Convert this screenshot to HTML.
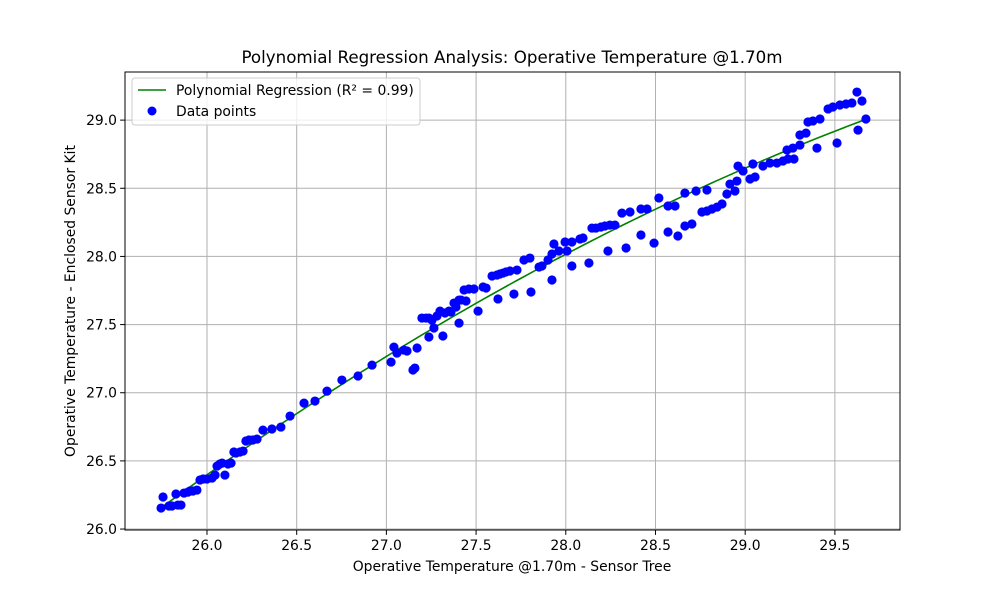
<!DOCTYPE html>
<html><head><meta charset="utf-8"><style>
body{margin:0;background:#fff;}
svg text{font-family:"DejaVu Sans","Liberation Sans",sans-serif;fill:#000;}
</style></head><body>
<svg id="chart" width="1000" height="596" viewBox="0 0 1000 596">
<rect width="1000" height="596" fill="#fff"/>
<g id="grid"></g>
<g id="xticks"></g>
<g id="yticks"></g>
<g id="fitg"></g>
<g id="pts"></g>
<rect x="125" y="72" width="775" height="458" fill="none" stroke="#000" stroke-width="1"/>
<text x="512" y="63" font-size="16.7" text-anchor="middle">Polynomial Regression Analysis: Operative Temperature @1.70m</text>
<text x="512" y="571" font-size="13.9" text-anchor="middle">Operative Temperature @1.70m - Sensor Tree</text>
<text transform="translate(75,301) rotate(-90)" font-size="13.9" text-anchor="middle">Operative Temperature - Enclosed Sensor Kit</text>
<g>
<rect x="132" y="78" width="288" height="47" rx="3" fill="#fff" fill-opacity="0.8" stroke="#ccc"/>
<line x1="138" y1="90" x2="166" y2="90" stroke="green" stroke-width="1.5"/>
<text x="176" y="95" font-size="13.9">Polynomial Regression (R² = 0.99)</text>
<circle cx="152" cy="111" r="4.5" fill="#0000ff"/>
<text x="176" y="116" font-size="13.9">Data points</text>
</g>
</svg>
<script>
const xTicks=[26.0,26.5,27.0,27.5,28.0,28.5,29.0,29.5];
const yTicks=[26.0,26.5,27.0,27.5,28.0,28.5,29.0];
const xVals=[25.744,25.755,25.788,25.805,25.827,25.838,25.855,25.872,25.894,25.905,25.922,25.944,25.961,25.978,26.000,26.028,26.045,26.056,26.072,26.084,26.100,26.117,26.134,26.150,26.162,26.184,26.201,26.217,26.234,26.256,26.279,26.312,26.362,26.412,26.463,26.541,26.602,26.669,26.752,26.842,26.920,27.026,27.042,27.059,27.098,27.115,27.148,27.159,27.171,27.198,27.221,27.237,27.237,27.254,27.265,27.282,27.299,27.315,27.327,27.349,27.360,27.377,27.388,27.405,27.416,27.433,27.444,27.460,27.488,27.405,27.511,27.539,27.556,27.589,27.617,27.633,27.650,27.667,27.689,27.728,27.622,27.711,27.767,27.800,27.806,27.851,27.867,27.901,27.923,27.934,27.962,27.923,27.996,28.007,28.034,28.034,28.079,28.096,28.129,28.146,28.168,28.196,28.218,28.235,28.246,28.274,28.313,28.336,28.358,28.419,28.419,28.453,28.492,28.519,28.570,28.609,28.570,28.625,28.664,28.664,28.703,28.726,28.787,28.759,28.787,28.815,28.843,28.871,28.898,28.943,28.915,28.954,28.960,28.988,29.027,29.055,29.043,29.099,29.138,29.177,29.211,29.239,29.272,29.233,29.266,29.305,29.305,29.339,29.400,29.350,29.378,29.417,29.462,29.489,29.528,29.562,29.595,29.623,29.651,29.673,29.629,29.512];
const yVals=[26.154,26.235,26.169,26.169,26.257,26.176,26.176,26.264,26.271,26.279,26.279,26.286,26.360,26.367,26.367,26.374,26.396,26.462,26.477,26.484,26.396,26.477,26.484,26.565,26.558,26.565,26.572,26.646,26.653,26.653,26.660,26.726,26.734,26.748,26.829,26.924,26.939,27.012,27.093,27.123,27.203,27.225,27.335,27.291,27.313,27.306,27.167,27.181,27.328,27.548,27.548,27.548,27.409,27.533,27.475,27.563,27.599,27.416,27.585,27.599,27.592,27.658,27.629,27.680,27.680,27.754,27.673,27.761,27.761,27.511,27.599,27.776,27.768,27.856,27.864,27.871,27.878,27.886,27.893,27.900,27.688,27.724,27.974,27.988,27.739,27.922,27.930,27.974,28.018,28.091,28.040,27.827,28.106,28.040,28.106,27.930,28.128,28.135,27.952,28.208,28.208,28.216,28.223,28.040,28.230,28.230,28.318,28.062,28.326,28.348,28.157,28.348,28.098,28.429,28.370,28.370,28.179,28.150,28.465,28.223,28.238,28.480,28.487,28.326,28.333,28.348,28.362,28.385,28.458,28.480,28.531,28.553,28.663,28.627,28.568,28.583,28.678,28.663,28.685,28.685,28.700,28.715,28.715,28.781,28.795,28.817,28.891,28.905,28.795,28.986,28.994,29.008,29.082,29.096,29.111,29.118,29.126,29.206,29.140,29.008,28.927,28.832];

const L=125,R=900,T=72,B=530,X0=25.543,X1=29.863,Y0=25.993,Y1=29.353;
const xs=v=>L+(v-X0)/(X1-X0)*(R-L);
const ys=v=>B-(v-Y0)/(Y1-Y0)*(B-T);
const NS='http://www.w3.org/2000/svg';
function mk(tag,attrs,parent){const e=document.createElementNS(NS,tag);for(const k in attrs)e.setAttribute(k,attrs[k]);parent.appendChild(e);return e;}
const grid=document.getElementById('grid'),gx=document.getElementById('xticks'),gy=document.getElementById('yticks');
xTicks.forEach(t=>{const x=xs(t);
 const g=mk('line',{x1:x,x2:x,y1:T,y2:B,stroke:'#b0b0b0','stroke-width':1},grid);
 
 
 const tk=mk('line',{x1:x,x2:x,y1:B,y2:B+4.9,stroke:'#000'},gx);
 
 
 const tx=mk('text',{x:x,y:B+20,'font-size':13.9,'text-anchor':'middle'},gx);tx.textContent=t.toFixed(1);
 
 
});
yTicks.forEach(t=>{const y=ys(t);
 const g=mk('line',{x1:L,x2:R,y1:y,y2:y,stroke:'#b0b0b0','stroke-width':1},grid);
 
 
 const tk=mk('line',{x1:L-4.9,x2:L,y1:y,y2:y,stroke:'#000'},gy);
 
 
 const tx=mk('text',{x:L-8,y:y+5,'font-size':13.9,'text-anchor':'end'},gy);tx.textContent=t.toFixed(1);
 
 
});
// quadratic least-squares fit
(function(){
 const n=xVals.length;const mx=xVals.reduce((a,b)=>a+b,0)/n;
 let S=[0,0,0,0,0],Ty=[0,0,0];
 for(let i=0;i<n;i++){const u=xVals[i]-mx;let p=1;for(let k=0;k<5;k++){S[k]+=p;if(k<3)Ty[k]+=p*yVals[i];p*=u;}}
 const A=[[S[0],S[1],S[2],Ty[0]],[S[1],S[2],S[3],Ty[1]],[S[2],S[3],S[4],Ty[2]]];
 for(let i=0;i<3;i++){for(let j=i+1;j<3;j++){const f=A[j][i]/A[i][i];for(let k=i;k<4;k++)A[j][k]-=f*A[i][k];}}
 const c=[0,0,0];for(let i=2;i>=0;i--){let s=A[i][3];for(let k=i+1;k<3;k++)s-=A[i][k]*c[k];c[i]=s/A[i][i];}
 const xmin=Math.min(...xVals),xmax=Math.max(...xVals);let d='';
 for(let i=0;i<=100;i++){const x=xmin+(xmax-xmin)*i/100,u=x-mx,y=c[0]+c[1]*u+c[2]*u*u;d+=(i?'L':'M')+xs(x).toFixed(2)+','+ys(y).toFixed(2);}
 const p=mk('path',{d:d,fill:'none',stroke:'green','stroke-width':1.6},document.getElementById('fitg'));
 
 
})();
const pts=document.getElementById('pts');
xVals.forEach((v,i)=>{const c=mk('circle',{cx:xs(v),cy:ys(yVals[i]),r:4.6,fill:'#0000ff'},pts);
 
 
});
</script>
</body></html>
